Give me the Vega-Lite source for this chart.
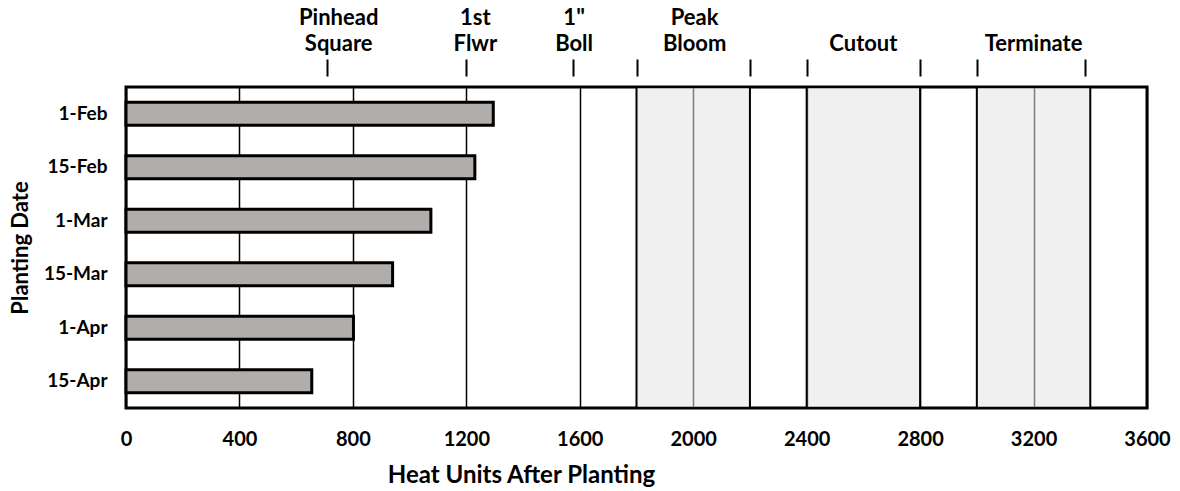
{
  "$schema": "https://vega.github.io/schema/vega-lite/v6.json",
  "width": 1021,
  "height": 321,
  "autosize": {"type": "none"},
  "padding": {"left": 126, "top": 87, "right": 33, "bottom": 83},
  "background": "white",
  "config": {
    "view": {"stroke": "black", "strokeWidth": 3},
    "font": "Lato"
  },
  "datasets": {
    "bars": [
      {"date": "1-Feb", "heat": 1295},
      {"date": "15-Feb", "heat": 1230},
      {"date": "1-Mar", "heat": 1075},
      {"date": "15-Mar", "heat": 940},
      {"date": "1-Apr", "heat": 802},
      {"date": "15-Apr", "heat": 655}
    ],
    "phases": [
      {"phase": "Peak Bloom", "start": 1800, "end": 2200},
      {"phase": "Cutout", "start": 2400, "end": 2800},
      {"phase": "Terminate", "start": 3000, "end": 3400}
    ],
    "labels": [
      {"label": "Pinhead\nSquare", "pos": 750},
      {"label": "1st\nFlwr", "pos": 1232},
      {"label": "1\"\nBoll", "pos": 1580},
      {"label": "Peak\nBloom", "pos": 2005},
      {"label": "\nCutout", "pos": 2600},
      {"label": "\nTerminate", "pos": 3200}
    ]
  },
  "layer": [
    {
      "data": {"name": "phases"},
      "mark": {"type": "rect", "fill": "#e4e4e4", "fillOpacity": 0.55, "stroke": "black", "strokeWidth": 2},
      "encoding": {
        "x": {"field": "start", "type": "quantitative", "scale": {"domain": [0, 3600], "nice": false, "zero": true}, "axis": null},
        "x2": {"field": "end"}
      }
    },
    {
      "data": {"name": "bars"},
      "mark": {"type": "bar", "fill": "#b0adab", "stroke": "black", "strokeWidth": 3, "strokeJoin": "miter"},
      "encoding": {
        "y": {
          "field": "date", "type": "nominal", "sort": null,
          "scale": {"paddingInner": 0.57, "paddingOuter": 0.285},
          "axis": {
            "ticks": false, "domain": false, "labelPadding": 19,
            "labelFont": "Lato", "labelFontSize": 19, "labelFontWeight": "bold", "labelColor": "black",
            "title": "Planting Date", "titleFont": "Lato", "titleFontSize": 22, "titleFontWeight": "bold",
            "titleColor": "black", "titlePadding": 11
          }
        },
        "x": {
          "field": "heat", "type": "quantitative",
          "axis": {
            "orient": "bottom",
            "values": [0, 400, 800, 1200, 1600, 2000, 2400, 2800, 3200, 3600],
            "format": "d",
            "grid": true, "gridColor": "black", "gridWidth": 1.5, "gridOpacity": 1,
            "ticks": false, "domain": false, "labelFlush": false,
            "labelFont": "Lato", "labelFontSize": 20, "labelFontWeight": "bold", "labelColor": "black",
            "labelPadding": 21,
            "title": "Heat Units After Planting", "titleFont": "Lato", "titleFontSize": 24,
            "titleFontWeight": "bold", "titleColor": "black", "titlePadding": 14,
            "titleX": 395, "titleAlign": "center"
          }
        }
      }
    },
    {
      "data": {"name": "labels"},
      "mark": {"type": "text", "lineBreak": "\n", "baseline": "alphabetic", "align": "center", "dy": -62,
               "font": "Lato", "fontSize": 22, "fontWeight": "bold", "color": "black", "lineHeight": 26},
      "encoding": {
        "x": {
          "field": "pos", "type": "quantitative",
          "axis": {
            "orient": "top",
            "values": [710, 1200, 1575, 1800, 2200, 2400, 2800, 3000, 3380],
            "grid": false, "labels": false, "domain": false, "title": null,
            "ticks": true, "tickSize": 17, "tickWidth": 2, "tickColor": "black", "offset": 11
          }
        },
        "y": {"value": 0},
        "text": {"field": "label"}
      }
    }
  ],
  "resolve": {"axis": {"x": "independent"}}
}
